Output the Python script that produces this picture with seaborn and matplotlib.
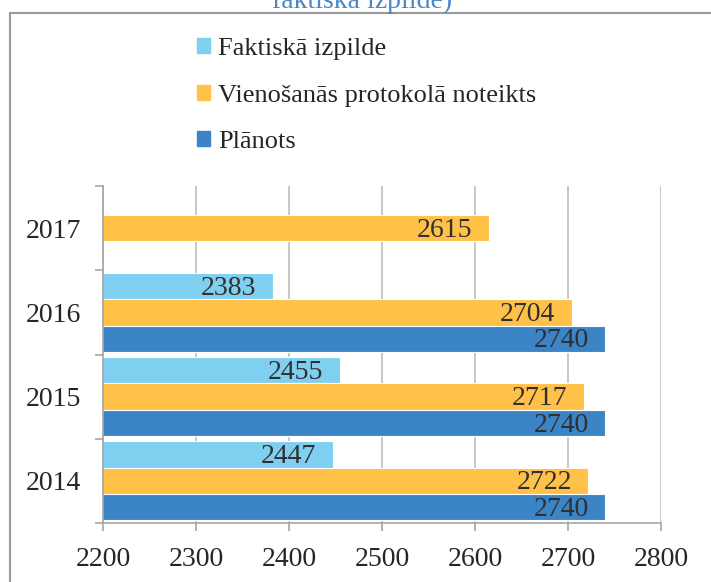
import numpy as np
import pandas as pd
import matplotlib
matplotlib.use("Agg")
import matplotlib.pyplot as plt
from matplotlib.patches import Rectangle
import seaborn as sns

# ==============================
# DATA
# ==============================
years = ["2017", "2016", "2015", "2014"]
series = ["Faktiskā izpilde", "Vienošanās protokolā noteikts", "Plānots"]
faktiska = [np.nan, 2383, 2455, 2447]
vienosanas = [2615, 2704, 2717, 2722]
planots = [np.nan, 2740, 2740, 2740]
x_ticks = [2200, 2300, 2400, 2500, 2600, 2700, 2800]
colors = ["#7FD0F0", "#FFC148", "#3B84C6"]

rows = []
for name, vals in zip(series, [faktiska, vienosanas, planots]):
    for y, v in zip(years, vals):
        rows.append({"year": y, "series": name, "value": v})
df = pd.DataFrame(rows)

# ==============================
# PLOT
# ==============================
sns.set_style("white")
plt.rcParams["font.family"] = ["Liberation Serif", "DejaVu Serif"]

fig = plt.figure(figsize=(7.11, 5.82), dpi=100)
ax = fig.add_axes([103 / 711, 1 - 523 / 582, 558 / 711, 337 / 582])

sns.barplot(data=df, x="value", y="year", hue="series", order=years,
            hue_order=series, palette=colors, saturation=1, orient="h",
            width=0.94, errorbar=None, edgecolor="white", linewidth=0.8, ax=ax)

ax.set_xlim(x_ticks[0], x_ticks[-1])
ax.set_xticks(x_ticks)
ax.set_xticklabels([str(t) for t in x_ticks])
ax.set_xlabel("")
ax.set_ylabel("")
ax.grid(axis="x", color="#BFBFBF", linewidth=1.2)
ax.set_axisbelow(True)

for s in ["top", "right"]:
    ax.spines[s].set_visible(False)
for s in ["left", "bottom"]:
    ax.spines[s].set_color("#A6A6A6")
    ax.spines[s].set_linewidth(1.2)

ax.tick_params(axis="x", length=6, width=1.2, color="#A6A6A6", pad=11,
               labelsize=20, labelcolor="#262626", bottom=True)
ax.tick_params(axis="y", length=0, pad=16, labelsize=20, labelcolor="#262626")
ax.set_yticks(np.arange(len(years) + 1) - 0.5, minor=True)
ax.tick_params(axis="y", which="minor", length=6, width=1.2, color="#A6A6A6", left=True)

# value labels inside bar ends
for cont in ax.containers:
    for p in cont:
        w = p.get_width()
        if np.isnan(w):
            continue
        ax.annotate(f"{w:.0f}", (w, p.get_y() + p.get_height() / 2),
                    xytext=(-12, -1.5), textcoords="offset points",
                    ha="right", va="center", fontsize=20, color="#303030")

# legend
ax.legend_.remove()
handles = [Rectangle((0, 0), 1, 1, color=c) for c in colors]
fig.legend(handles, series, loc="upper left",
           bbox_to_anchor=(197 / 711, 1 - 38 / 582), bbox_transform=fig.transFigure,
           frameon=False, fontsize=19, handlelength=0.5, handleheight=0.5,
           handletextpad=0.3, labelspacing=0.93, borderpad=0, borderaxespad=0,
           labelcolor="#262626")

# title (cut off at top, as in the source) and outer border
fig.text(362 / 711, 1 - 8 / 582, "faktiskā izpilde)", ha="center", va="baseline",
         fontsize=20, color="#4A86C8")
fig.add_artist(Rectangle((10 / 711, -0.1), 1.2, 1.1 - 13 / 582,
                         transform=fig.transFigure, fill=False,
                         edgecolor="#9A9A9A", linewidth=1.5))

plt.savefig("out.png", dpi=100)
